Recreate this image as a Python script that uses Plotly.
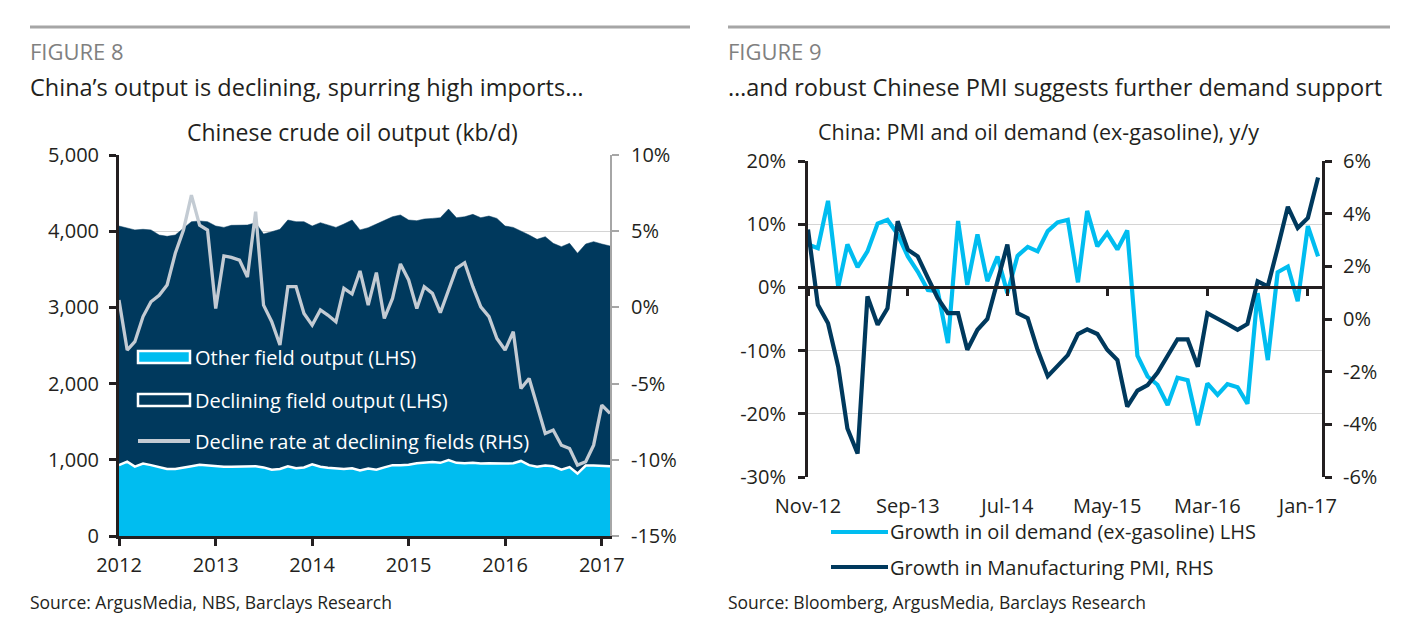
import plotly.graph_objects as go
import pandas as pd

FONT = "Open Sans"
NAVY = "#00395d"
CYAN = "#00bdf0"
GREY_LINE = "#c3cbd3"
TXT = "#231f20"
DARK = "#231f20"

# ---------------- Figure 8 data (monthly, Jan-2012 .. Feb-2017) ----------------
months_left = pd.date_range("2012-01-01", periods=62, freq="MS")
other_field = [930, 975, 910, 950, 930, 900, 880, 880, 895, 915, 935, 925,
               915, 910, 910, 915, 910, 915, 900, 870, 880, 915, 890, 900,
               940, 910, 895, 885, 880, 890, 860, 885, 870, 900, 930, 930,
               935, 955, 960, 970, 960, 995, 960, 955, 960, 950, 955, 950,
               950, 955, 985, 930, 910, 925, 915, 870, 905, 820, 925, 925,
               920, 915]
declining_field = [3138, 3063, 3107, 3075, 3087, 3050, 3053, 3070, 3143, 3210, 3199, 3200,
                   3153, 3140, 3167, 3166, 3171, 3197, 3063, 3123, 3145, 3232, 3235, 3225,
                   3128, 3202, 3186, 3165, 3214, 3257, 3157, 3161, 3224, 3238, 3260, 3283,
                   3212, 3183, 3200, 3198, 3217, 3296, 3217, 3235, 3261, 3227, 3244, 3218,
                   3118, 3095, 3021, 3020, 2983, 3003, 2926, 2927, 2936, 2890, 2907, 2938,
                   2912, 2891]
decline_rate = [0.48, -2.8, -2.25, -0.6, 0.37, 0.8, 1.47, 3.55, 5.08, 7.37, 5.4, 5.08,
                -0.07, 3.38, 3.28, 3.1, 2.0, 6.28, 0.15, -0.94, -2.47, 1.36, 1.36, -0.4,
                -1.16, -0.17, -0.5, -0.94, 1.25, 0.88, 2.39, 0.15, 2.28, -0.72, 0.59, 2.85,
                1.8, -0.07, 1.36, 0.92, -0.35, 1.14, 2.56, 2.93, 1.36, 0.04, -0.61, -2.04,
                -2.8, -1.6, -5.32, -4.66, -6.52, -8.27, -8.05, -9.04, -9.26, -10.35, -10.13, -9.04,
                -6.41, -6.96]
lhs8_ticks = [0, 1000, 2000, 3000, 4000, 5000]
rhs8_ticks = [-15, -10, -5, 0, 5, 10]
rhs8_labels = ["-15%", "-10%", "-5%", "0%", "5%", "10%"]

# ---------------- Figure 9 data (monthly, Nov-2012 .. Feb-2017) ----------------
months_right = pd.date_range("2012-11-01", periods=52, freq="MS")
oil_demand_growth = [6.8, 6.2, 13.7, 0.05, 6.8, 3.2, 5.7, 10.1, 10.7, 8.4, 4.9, 2.5,
                     -0.4, -0.6, -8.8, 10.5, 0.4, 8.4, 1.0, 4.9, -0.9, 5.0, 6.4, 5.7,
                     8.9, 10.3, 10.7, 0.8, 12.1, 6.5, 8.6, 6.0, 9.0, -10.8, -14.1, -15.4,
                     -18.6, -14.3, -14.7, -21.8, -15.2, -17.0, -15.3, -15.8, -18.4, -0.9, -11.5, 2.4,
                     3.3, -2.2, 9.7, 4.9]
pmi_growth = [3.4, 0.54, -0.16, -1.81, -4.16, -5.11, 0.86, -0.22, 0.41, 3.71, 2.63, 2.38,
              1.56, 0.79, 0.22, 0.22, -1.17, -0.41, 0.0, 1.43, 2.83, 0.22, 0.03, -1.17,
              -2.17, -1.78, -1.37, -0.57, -0.39, -0.57, -1.17, -1.56, -3.33, -2.72, -2.51, -2.04,
              -1.40, -0.77, -0.77, -1.81, 0.22, 0.03, -0.19, -0.41, -0.19, 1.43, 1.24, 2.70,
              4.26, 3.46, 3.84, 5.37]
right_tick_dates = ["2012-11-01", "2013-09-01", "2014-07-01", "2015-05-01", "2016-03-01", "2017-01-01"]
right_tick_labels = ["Nov-12", "Sep-13", "Jul-14", "May-15", "Mar-16", "Jan-17"]
lhs9_ticks = [-30, -20, -10, 0, 10, 20]
lhs9_labels = ["-30%", "-20%", "-10%", "0%", "10%", "20%"]
rhs9_ticks = [-6, -4, -2, 0, 2, 4, 6]
rhs9_labels = ["-6%", "-4%", "-2%", "0%", "2%", "4%", "6%"]

W, H = 1408, 627
OFF = 8  # page body margin
def px(x): return (x - OFF) / W
def py(y): return 1 - (y - OFF) / H

L_X = [px(119), px(610)]
L_Y = [py(536), py(155)]
R_X = [px(808), px(1322)]
R_Y = [py(477), py(161)]
zero_pos = R_Y[0] + (0 - lhs9_ticks[0]) / (lhs9_ticks[-1] - lhs9_ticks[0]) * (R_Y[1] - R_Y[0])

fig = go.Figure()

fig.add_trace(go.Scatter(x=months_left, y=other_field, name="Other field output (LHS)",
                         stackgroup="lhs", mode="lines", fillcolor=CYAN,
                         line=dict(color="white", width=2.5), xaxis="x", yaxis="y"))
fig.add_trace(go.Scatter(x=months_left, y=declining_field, name="Declining field output (LHS)",
                         stackgroup="lhs", mode="lines", fillcolor=NAVY,
                         line=dict(color=NAVY, width=0.5), xaxis="x", yaxis="y"))
fig.add_trace(go.Scatter(x=months_left, y=decline_rate, name="Decline rate at declining fields (RHS)",
                         mode="lines", line=dict(color=GREY_LINE, width=3.3), xaxis="x", yaxis="y2"))

fig.add_trace(go.Scatter(x=months_right, y=oil_demand_growth, name="Growth in oil demand (ex-gasoline) LHS",
                         mode="lines", line=dict(color=CYAN, width=4.2), xaxis="x3", yaxis="y3"))
fig.add_trace(go.Scatter(x=months_right, y=pmi_growth, name="Growth in Manufacturing PMI, RHS",
                         mode="lines", line=dict(color=NAVY, width=4.2), xaxis="x3", yaxis="y4"))
fig.add_trace(go.Scatter(x=[], y=[], xaxis="x5", yaxis="y3", showlegend=False, hoverinfo="skip"))

tickfont = dict(family=FONT, size=20, color=TXT)

fig.update_layout(
    width=W, height=H, margin=dict(l=0, r=0, t=0, b=0, autoexpand=False),
    paper_bgcolor="white", plot_bgcolor="white", showlegend=False,
    font=dict(family=FONT, color=TXT),
    xaxis=dict(domain=L_X, anchor="y", type="date", range=["2012-01-01", "2017-02-01"],
               dtick="M12", tick0="2012-01-01", tickformat="%Y", showgrid=False,
               showline=True, linecolor=DARK, linewidth=3, ticks="outside",
               ticklen=7, tickwidth=3, tickcolor=DARK, tickfont=tickfont,
               ticklabelstandoff=2, automargin=False),
    yaxis=dict(domain=L_Y, anchor="x", range=[0, 5000], tickvals=lhs8_ticks,
               tickformat=",", showgrid=True, gridcolor="#d4d4d4", gridwidth=1,
               zeroline=False, showline=True, linecolor=DARK, linewidth=3,
               ticks="outside", ticklen=7, tickwidth=3, tickcolor=DARK, tickfont=tickfont,
               ticklabelstandoff=6, automargin=False),
    yaxis2=dict(overlaying="y", side="right", anchor="x", range=[-15, 10],
                tickvals=rhs8_ticks, ticktext=rhs8_labels, showgrid=False, zeroline=False,
                showline=True, linecolor="#a6a6a6", linewidth=2, ticks="outside",
                ticklen=7, tickwidth=2, tickcolor="#a6a6a6", tickfont=tickfont,
                ticklabelstandoff=8, automargin=False),
    xaxis3=dict(domain=R_X, anchor="y3", type="date", range=["2012-11-01", "2017-02-13"],
                tickvals=right_tick_dates, ticktext=right_tick_labels, showgrid=False,
                showline=False, ticks="", tickfont=tickfont, ticklabelstandoff=15,
                automargin=False),
    xaxis5=dict(overlaying="x3", anchor="free", position=zero_pos, type="date",
                range=["2012-11-01", "2017-02-13"], tickvals=right_tick_dates,
                showticklabels=False, showgrid=False, showline=True, linecolor=DARK,
                linewidth=3, ticks="outside", ticklen=7, tickwidth=3, tickcolor=DARK,
                automargin=False),
    yaxis3=dict(domain=R_Y, anchor="x3", range=[-30, 20], tickvals=lhs9_ticks,
                ticktext=lhs9_labels, showgrid=True, gridcolor="#d4d4d4", gridwidth=1,
                zeroline=False, showline=True, linecolor=DARK, linewidth=3,
                ticks="outside", ticklen=7, tickwidth=3, tickcolor=DARK, tickfont=tickfont,
                ticklabelstandoff=8, automargin=False),
    yaxis4=dict(overlaying="y3", side="right", anchor="x3", range=[-6, 6],
                tickvals=rhs9_ticks, ticktext=rhs9_labels, showgrid=False, zeroline=False,
                showline=True, linecolor=DARK, linewidth=3, ticks="outside",
                ticklen=7, tickwidth=3, tickcolor=DARK, tickfont=tickfont,
                ticklabelstandoff=7, automargin=False),
)

shapes = [
    dict(type="line", xref="paper", yref="paper", x0=px(30), x1=px(690), y0=py(27), y1=py(27),
         line=dict(color="#a6a6a6", width=3)),
    dict(type="line", xref="paper", yref="paper", x0=px(728), x1=px(1390), y0=py(27), y1=py(27),
         line=dict(color="#a6a6a6", width=3)),
    # Figure 8 legend symbols
    dict(type="rect", xref="paper", yref="paper", x0=px(138), x1=px(190), y0=py(363), y1=py(351),
         fillcolor=CYAN, line=dict(color="white", width=2.5)),
    dict(type="rect", xref="paper", yref="paper", x0=px(138), x1=px(190), y0=py(406), y1=py(394),
         fillcolor=NAVY, line=dict(color="white", width=2.5)),
    dict(type="line", xref="paper", yref="paper", x0=px(138), x1=px(190), y0=py(441), y1=py(441),
         line=dict(color=GREY_LINE, width=4)),
    # Figure 9 legend symbols
    dict(type="line", xref="paper", yref="paper", x0=px(831), x1=px(888), y0=py(532), y1=py(532),
         line=dict(color=CYAN, width=4.2)),
    dict(type="line", xref="paper", yref="paper", x0=px(831), x1=px(888), y0=py(567), y1=py(567),
         line=dict(color=NAVY, width=4.2)),
]
fig.update_layout(shapes=shapes)

def ann(text, x, y, size, color=TXT, xanchor="left"):
    fig.add_annotation(text=text, x=px(x), y=py(y), xref="paper", yref="paper",
                       xanchor=xanchor, yanchor="middle", showarrow=False,
                       font=dict(family=FONT, size=size, color=color))

ann("FIGURE 8", 28, 51, 22, "#808080")
ann("China’s output is declining, spurring high imports…", 28, 87, 23.5)
ann("Chinese crude oil output (kb/d)", 352, 132, 23, xanchor="center")
ann("Other field output (LHS)", 193, 357, 20, "white")
ann("Declining field output (LHS)", 193, 400, 20, "white")
ann("Decline rate at declining fields (RHS)", 193, 441, 20, "white")
ann("Source: ArgusMedia, NBS, Barclays Research", 28, 602, 17.5)

ann("FIGURE 9", 726, 51, 22, "#808080")
ann("…and robust Chinese PMI suggests further demand support", 726, 87, 23.5)
ann("China: PMI and oil demand (ex-gasoline), y/y", 1038, 131, 21.5, xanchor="center")
ann("Growth in oil demand (ex-gasoline) LHS", 888, 531, 20)
ann("Growth in Manufacturing PMI, RHS", 888, 567, 20)
ann("Source: Bloomberg, ArgusMedia, Barclays Research", 726, 602, 17.5)

fig.write_html("out.html")
